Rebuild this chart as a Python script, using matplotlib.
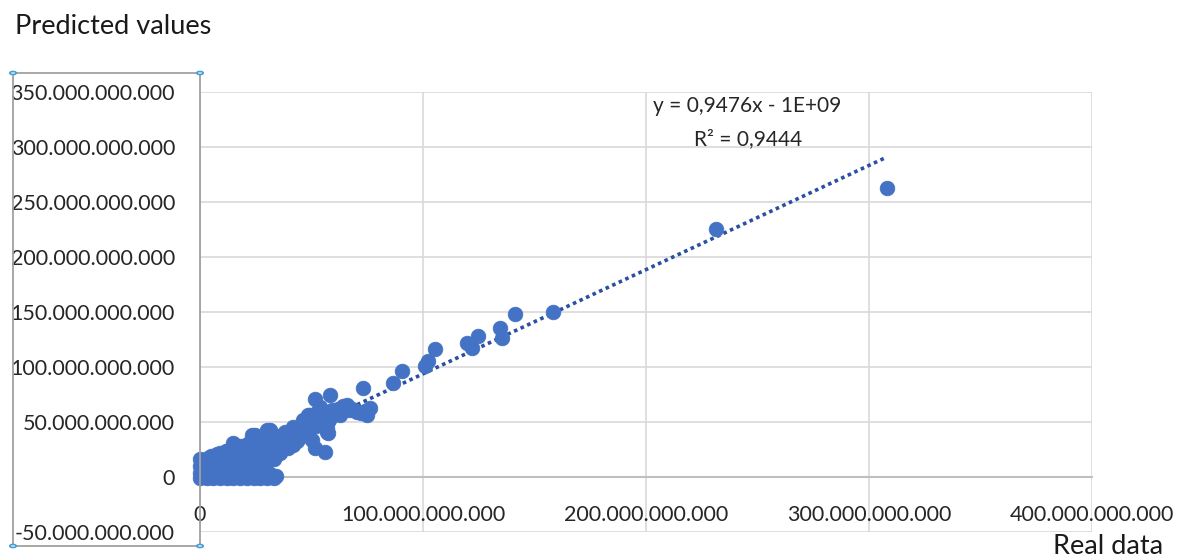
import matplotlib
matplotlib.use("Agg")
import matplotlib.pyplot as plt
from matplotlib.patches import Rectangle, Circle

plt.rcParams['font.family'] = ['Lato', 'DejaVu Sans']

# values in billions (1e9)
# dense cluster near the origin
cluster_real = [
    0, 3, 6, 9, 12, 15, 18, 21, 24, 27, 30, 33,
    1, 4, 7, 10, 13, 16, 19, 22, 25, 28, 31, 34,
    1.5, 4.5, 7.5, 10.5, 13.5, 16.5, 19.5, 22.5, 25.5, 28.5, 31.5,
    0, 3, 6, 9, 12, 15, 18, 21, 24, 27,
    1.5, 4.5, 7.5, 10.5, 13.5, 16.5, 19.5, 22.5, 25.5, 28.5,
    1, 4, 7, 10, 13, 16, 19, 22, 25,
    1.5, 4.5, 7.5, 10.5, 13.5, 16.5, 19.5, 22.5, 25.5,
    0, 3, 6, 9, 12, 15, 18, 21, 24, 27,
    1.5, 4.5, 7.5, 10.5, 13.5, 16.5, 19.5, 22.5, 25.5,
    1, 4, 7, 10, 13, 16, 19, 22, 25, 30, 33,
    1.5, 4.5, 7.5, 10.5, 13.5, 16.5, 19.5, 22.5, 25.5, 28.5,
    0, 3, 6, 9, 12, 15, 18, 21, 24, 27, 31, 36,
    3.5, 6.5, 9.5, 12.5, 15.5, 18.5, 21.5, 24.5, 27.5, 30.5,
    5, 8, 11, 14, 17, 20, 23, 26, 29, 33, 38,
    7.5, 10.5, 13.5, 16.5, 19.5, 22.5, 25.5, 28.5, 31.5, 34.5,
    9, 12, 15, 18, 21, 24, 27, 30, 33, 37,
    11.5, 14.5, 17.5, 20.5, 23.5, 26.5, 29.5, 32.5, 35.5,
    13, 16, 19, 22, 25, 28, 31, 34, 39,
    15.5, 18.5, 21.5, 24.5, 27.5, 30.5, 33.5, 36.5, 39.5,
    18, 21, 24, 27, 30, 33, 36, 41,
    20.5, 23.5, 26.5, 29.5, 32.5, 35.5, 38.5, 41.5,
    22, 25, 28, 31, 34, 37, 40, 44,
    25.5, 28.5, 31.5, 34.5, 37.5, 40.5, 43.5,
    27, 30, 33, 36, 39, 42, 46,
    29.5, 32.5, 35.5, 38.5, 41.5, 44.5,
    31, 34, 37, 40, 43,
]
cluster_pred = [
    -1, -1, -1, -1, -1, -1, -1, -1, -1, -1, -1, -1,
    1, 1, 1, 1, 1, 1, 1, 1, 1, 1, 1, 1,
    2.5, 2.5, 2.5, 2.5, 2.5, 2.5, 2.5, 2.5, 2.5, 2.5, 2.5,
    4, 4, 4, 4, 4, 4, 4, 4, 4, 4,
    5.5, 5.5, 5.5, 5.5, 5.5, 5.5, 5.5, 5.5, 5.5, 5.5,
    7, 7, 7, 7, 7, 7, 7, 7, 7,
    8.5, 8.5, 8.5, 8.5, 8.5, 8.5, 8.5, 8.5, 8.5,
    10, 10, 10, 10, 10, 10, 10, 10, 10, 10,
    11.5, 11.5, 11.5, 11.5, 11.5, 11.5, 11.5, 11.5, 11.5,
    13, 13, 13, 13, 13, 13, 13, 13, 13, 14, 16,
    14.5, 14.5, 14.5, 14.5, 14.5, 14.5, 14.5, 14.5, 14.5, 14.5,
    16, 16, 16, 16, 16, 16, 16, 16, 16, 16, 19, 22,
    17.5, 17.5, 17.5, 17.5, 17.5, 17.5, 17.5, 17.5, 17.5, 17.5,
    19, 19, 19, 19, 19, 19, 19, 19, 19, 22, 26,
    20.5, 20.5, 20.5, 20.5, 20.5, 20.5, 20.5, 20.5, 20.5, 20.5,
    22, 22, 22, 22, 22, 22, 22, 22, 24, 27,
    23.5, 23.5, 23.5, 23.5, 23.5, 23.5, 23.5, 23.5, 23.5,
    25, 25, 25, 25, 25, 25, 25, 28, 31,
    26.5, 26.5, 26.5, 26.5, 26.5, 26.5, 26.5, 26.5, 26.5,
    28, 28, 28, 28, 28, 30, 32, 35,
    29.5, 29.5, 29.5, 29.5, 29.5, 29.5, 29.5, 29.5,
    31, 31, 31, 31, 32, 34, 36, 38,
    32.5, 32.5, 32.5, 32.5, 32.5, 32.5, 32.5,
    34, 34, 35, 36, 37, 39, 41,
    35.5, 35.5, 35.5, 35.5, 35.5, 35.5,
    37, 37, 38, 39, 40,
]
# band along the trend
band_real = [
    41.7, 30, 24.7, 23.3, 14.8, 40.4, 31.4, 45, 47, 53, 55, 61, 62, 44, 38, 46, 53, 54,
    44, 47, 48, 50, 52, 54, 45, 43, 48, 53, 55, 58, 60, 62, 66, 68, 70, 72, 74, 63,
    49.3, 50.2, 48.4, 57.4, 56.9, 57, 50.2, 51.6, 56,
    51.6, 58.3, 59.2, 57.4, 64, 65.9, 67.3, 70.4, 73.1, 76.2, 74.9,
    86.5, 90.5, 100.9, 102.2, 105.4, 119.7, 122, 124.7, 134.5, 135.4, 141.3, 158.3,
]
band_pred = [
    45.2, 42.5, 38, 38, 30.7, 40.7, 42.5, 45, 50, 52, 58, 57, 62, 42, 41, 52, 60, 64,
    44, 47, 43, 52, 46, 50, 38, 35, 38, 55, 48, 52, 58, 60, 62, 62, 60, 58, 60, 56,
    56, 48.8, 56, 39.8, 44.3, 40.7, 33.5, 26.2, 22.6,
    70.5, 75, 60.6, 56, 65, 65.1, 60.6, 58.8, 80.5, 62.4, 56,
    85.9, 96.7, 101.3, 105.8, 116.6, 122, 117.5, 128.4, 135.6, 126.6, 148.3, 150.1,
]
# largest observations
top_real = [231.4, 308]
top_pred = [225, 263]

slope = 0.9476
intercept = -1.0
trend_x = [0, 308]

x_ticks = [0, 100, 200, 300, 400]
x_labels = ['0', '100.000.000.000', '200.000.000.000', '300.000.000.000', '400.000.000.000']
y_ticks = [-50, 0, 50, 100, 150, 200, 250, 300, 350]
y_labels = ['-50.000.000.000', '0', '50.000.000.000', '100.000.000.000', '150.000.000.000',
            '200.000.000.000', '250.000.000.000', '300.000.000.000', '350.000.000.000']

W, H = 1178, 559
fig = plt.figure(figsize=(W / 100, H / 100), dpi=100)
L, R, T, B = 200, 1092, 92, 532
ax = fig.add_axes([L / W, (H - B) / H, (R - L) / W, (B - T) / H])
ax.set_xlim(0, 400)
ax.set_ylim(-50, 350)

txt = '#262626'
ax.set_xticks(x_ticks)
ax.set_xticklabels(x_labels)
ax.set_yticks(y_ticks)
ax.set_yticklabels(y_labels)
ax.grid(True, color='#d9d9d9', lw=1.2, zorder=0)
ax.set_axisbelow(True)
for s in ['top', 'right', 'left']:
    ax.spines[s].set_visible(False)
ax.spines['bottom'].set_position(('data', 0))
ax.spines['bottom'].set_color('#bfbfbf')
ax.spines['bottom'].set_linewidth(1.5)
ax.tick_params(axis='both', length=0, labelsize=15.5, labelcolor=txt)
ax.tick_params(axis='x', pad=20)
ax.tick_params(axis='y', pad=18)

all_real = cluster_real + band_real + top_real
all_pred = cluster_pred + band_pred + top_pred
ax.scatter(all_real, all_pred, s=110, color='#4472c4', edgecolor='#4472c4',
           linewidth=0.6, zorder=3, clip_on=False)
trend_y = [slope * v + intercept for v in trend_x]
ax.plot(trend_x, trend_y, color='#2a4fa3', lw=2.6, linestyle=(0, (1.0, 1.0)), zorder=2.5)

fig.text(747 / W, 1 - 106 / H, 'y = 0,9476x - 1E+09', ha='center', va='center',
         fontsize=15, color=txt)
fig.text(748 / W, 1 - 139 / H, 'R² = 0,9444', ha='center', va='center',
         fontsize=15, color=txt)

fig.text(15 / W, 1 - 27 / H, 'Predicted values', ha='left', va='center',
         fontsize=19.5, color='#1a1a1a')
fig.text(1163 / W, 1 - 546 / H, 'Real data', ha='right', va='center',
         fontsize=19.5, color='#1a1a1a')

# selection box of the axis title area
bx0, by0, bx1, by1 = 13, 73, 200, 546
fig.patches.append(Rectangle((bx0 / W, 1 - by1 / H), (bx1 - bx0) / W, (by1 - by0) / H,
                             transform=fig.transFigure, fill=False, ec='#a0a0a0', lw=1.3,
                             zorder=5))
for (px, py) in [(bx0, by0), (bx1, by0), (bx0, by1), (bx1, by1)]:
    fig.patches.append(Circle((px / W, 1 - py / H), 3.2 / W, transform=fig.transFigure,
                              fc='#eaf4fb', ec='#4a9fd4', lw=1.2, zorder=6))
fig.patches.append(Circle((599 / W, 1 - 565 / H), 7 / W, transform=fig.transFigure,
                          fc='#6e6e6e', ec='#6e6e6e', lw=1, zorder=6))

fig.savefig('out.png', dpi=100)
